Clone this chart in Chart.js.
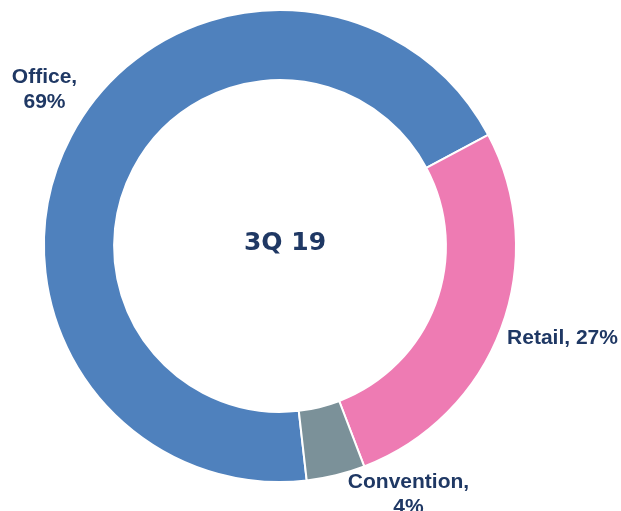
<!DOCTYPE html>
<html>
<head>
<meta charset="utf-8">
<script src="https://cdn.jsdelivr.net/npm/chart.js@4/dist/chart.umd.min.js"></script>
<style>
  html, body { margin: 0; padding: 0; background: #ffffff; }
  #wrap { width: 621px; height: 511px; position: relative; }
</style>
</head>
<body>
<div id="wrap"><canvas id="c" width="621" height="511"></canvas></div>
<script>
const categories = ["Office", "Retail", "Convention"];
const shares = [69, 27, 4];
const centerTitle = "3Q 19";

const colors = ["#4F81BD", "#EE7BB3", "#7B9199"];
const labelColor = "#1F3864";

// text anchors for the outside labels (lines, center x, first baseline)
const labelLayout = [
  { x: 44.5, y: 83, lines: (n, v) => [n + ",", v + "%"] },
  { x: 562.5, y: 344, lines: (n, v) => [n + ", " + v + "%"] },
  { x: 408.5, y: 488, lines: (n, v) => [n + ",", v + "%"] }
];

const labelPlugin = {
  id: "labels",
  afterDraw(chart) {
    const ctx = chart.ctx;
    const meta = chart.getDatasetMeta(0);
    const arc0 = meta.data[0];
    ctx.save();
    ctx.fillStyle = labelColor;
    ctx.textAlign = "center";
    ctx.textBaseline = "alphabetic";
    ctx.font = "bold 21px 'Liberation Sans', Arial, sans-serif";
    categories.forEach((name, i) => {
      const L = labelLayout[i];
      L.lines(name, shares[i]).forEach((t, k) => {
        ctx.fillText(t, L.x, L.y + k * 25);
      });
    });
    ctx.font = "bold 25px 'DejaVu Sans', sans-serif";
    ctx.textBaseline = "middle";
    ctx.fillText(centerTitle, arc0.x + 5, arc0.y - 3);
    ctx.restore();
  }
};

new Chart(document.getElementById("c"), {
  type: "doughnut",
  data: {
    labels: categories,
    datasets: [{
      data: shares,
      backgroundColor: colors,
      borderColor: "#ffffff",
      borderWidth: 2,
      hoverOffset: 0
    }]
  },
  options: {
    responsive: false,
    animation: false,
    cutout: "70.3%",
    rotation: 173.5,
    layout: { padding: { left: 43, right: 104, top: 9, bottom: 28 } },
    plugins: {
      legend: { display: false },
      tooltip: { enabled: false }
    }
  },
  plugins: [labelPlugin]
});
</script>
</body>
</html>
